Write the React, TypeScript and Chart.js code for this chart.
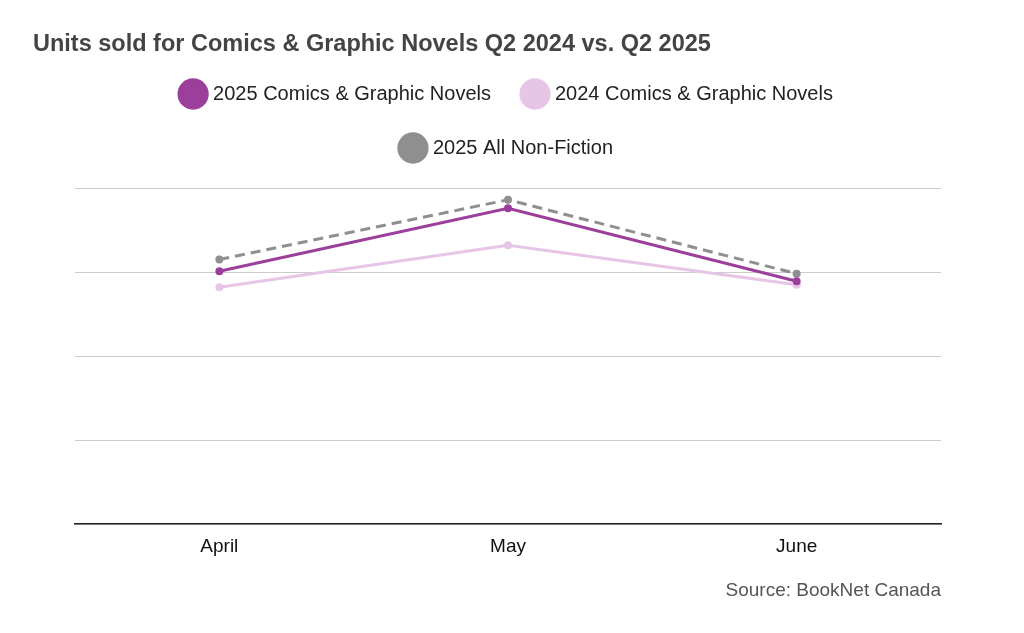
import React, { useEffect, useRef } from "react";
import { Chart, registerables } from "chart.js";
Chart.register(...registerables);

const categories = ["April", "May", "June"];
const comics2025 = [301, 376, 289];
const comics2024 = [282, 332, 285];
const nonFiction2025 = [315, 386, 298];

const legendMargin = {
  id: "legendMargin",
  beforeInit(chart: any) {
    const fit = chart.legend.fit;
    chart.legend.fit = function () {
      fit.bind(chart.legend)();
      this.height += 20;
    };
  },
};

export default function App() {
  const ref = useRef<HTMLCanvasElement>(null);
  useEffect(() => {
    const chart = new Chart(ref.current!, {
      type: "line",
      data: {
        labels: categories,
        datasets: [
          { label: "2025 Comics & Graphic Novels", data: comics2025, borderColor: "#9b3f9b", backgroundColor: "#9b3f9b", borderWidth: 3, pointRadius: 2.5 },
          { label: "2024 Comics & Graphic Novels", data: comics2024, borderColor: "#e6c5e6", backgroundColor: "#e6c5e6", borderWidth: 3, pointRadius: 2.5 },
          { label: "2025 All Non-Fiction", data: nonFiction2025, borderColor: "#8f8f8f", backgroundColor: "#8f8f8f", borderWidth: 3, pointRadius: 2.5, borderDash: [10, 6] },
        ],
      },
      plugins: [legendMargin],
      options: {
        animation: false,
        responsive: false,
        layout: { padding: { left: 75, right: 83, top: 50, bottom: 72 } },
        plugins: {
          legend: {
            labels: { usePointStyle: true, pointStyle: "circle", boxWidth: 20, boxHeight: 20, padding: 34, color: "#222", font: { family: "Liberation Sans, Arial", size: 20 } },
          },
          tooltip: { enabled: false },
        },
        scales: {
          x: {
            offset: true,
            grid: { display: false },
            border: { display: true, color: "#222", width: 1.5 },
            ticks: { color: "#111", font: { family: "Liberation Sans, Arial", size: 19 }, padding: 3 },
          },
          y: {
            min: 0, max: 400,
            ticks: { display: false, stepSize: 100 },
            grid: { color: "#cccccc", drawTicks: false },
            border: { display: false },
          },
        },
      },
    });
    return () => chart.destroy();
  }, []);
  return (
    <div style={{ position: "absolute", left: 0, top: 0, width: 1024, height: 633, fontFamily: "Liberation Sans, Arial", background: "#fff" }}>
      <canvas ref={ref} width={1024} height={633} />
      <div style={{ position: "absolute", left: 33, top: 30, fontSize: 23.5, fontWeight: "bold", color: "#444" }}>
        Units sold for Comics &amp; Graphic Novels Q2 2024 vs. Q2 2025
      </div>
      <div style={{ position: "absolute", right: 83, top: 579, fontSize: 19, color: "#555" }}>Source: BookNet Canada</div>
    </div>
  );
}
